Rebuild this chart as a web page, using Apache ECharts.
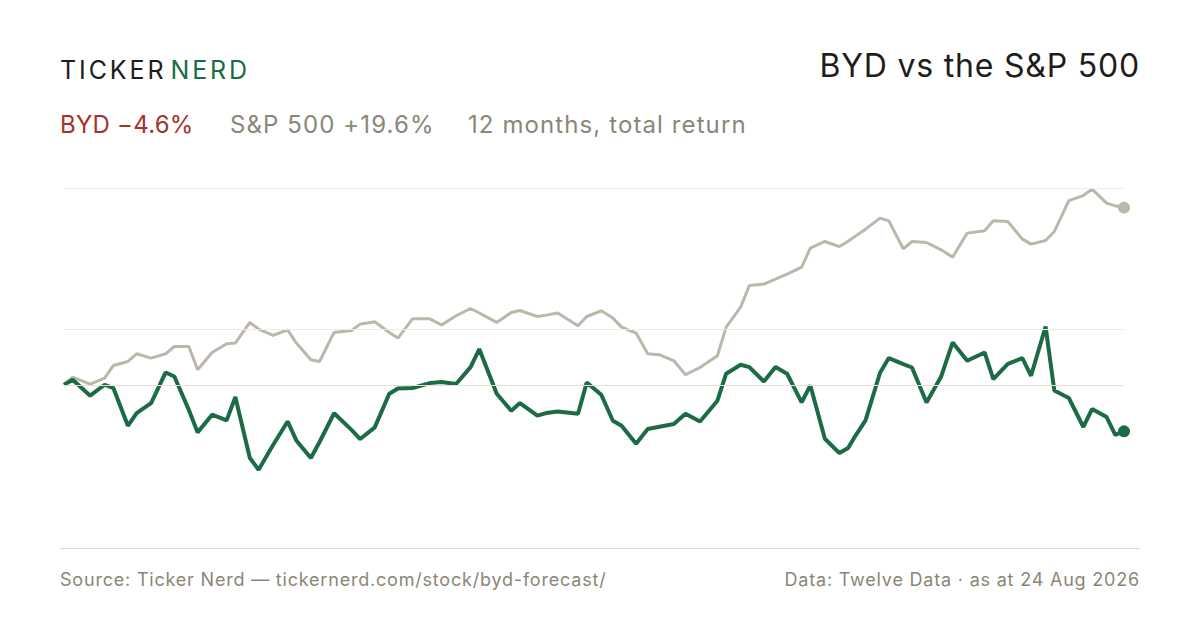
<!DOCTYPE html>
<html>
<head>
<meta charset="utf-8">
<title>BYD vs the S&amp;P 500</title>
<script src="https://cdn.jsdelivr.net/npm/echarts@6/dist/echarts.min.js"></script>
<style>
  html, body { margin: 0; padding: 0; background: #fff; }
  #wrap { position: relative; width: 1200px; height: 630px; font-family: Inter, "Noto Sans", sans-serif; overflow: hidden; }
  #chart { position: absolute; left: 0; top: 0; width: 1200px; height: 630px; }
  .txt { position: absolute; white-space: nowrap; line-height: 1; }
  #logo { left: 60px; top: 58px; font-size: 25px; letter-spacing: 2.9px; color: #1d1d1b; }
  #logo span { color: #1b6b45; margin-left: 4px; }
  #title { right: 60px; top: 50px; font-size: 32px; letter-spacing: 0.8px; color: #1d1d1b; }
  .sub { top: 113px; font-size: 24px; letter-spacing: 1.1px; color: #8b8677; }
  #divider { position: absolute; left: 60px; top: 548px; width: 1080px; height: 0; border-top: 1.5px solid #dedad0; }
  .foot { top: 571px; font-size: 18px; letter-spacing: 0.8px; color: #8b8677; }
</style>
</head>
<body>
<div id="wrap">
  <div id="chart"></div>
  <div class="txt" id="logo">TICKER<span>NERD</span></div>
  <div class="txt" id="title">BYD vs the S&amp;P 500</div>
  <div class="txt sub" style="left:60px;letter-spacing:0.25px;color:#a8322a;">BYD −4.6%</div>
  <div class="txt sub" style="left:230px;">S&amp;P 500 +19.6%</div>
  <div class="txt sub" style="left:468px;">12 months, total return</div>
  <div id="divider"></div>
  <div class="txt foot" style="left:60px;">Source: Ticker Nerd — tickernerd.com/stock/byd-forecast/</div>
  <div class="txt foot" style="right:60px;">Data: Twelve Data · as at 24 Aug 2026</div>
</div>
<script>
// days since start of the 12 month window
var days = [0,3,9,14,17,22,25,30,35,38,43,46,51,56,59,64,67,72,77,80,85,88,93,99,102,107,112,115,120,126,130,135,140,143,149,154,157,163,166,170,177,180,185,189,192,197,201,205,210,214,219,225,228,233,236,241,245,249,254,257,262,267,270,272,276,281,284,289,292,297,302,306,311,317,320,325,330,333,338,341,346,351,354,359,362,365];
// total return index, rebased to 100
var byd = [100.0,100.51,98.90,100.0,99.67,95.94,97.18,98.17,101.25,100.84,97.48,95.30,97.02,96.46,98.77,92.86,91.77,94.09,96.36,94.53,92.86,94.38,97.16,95.54,94.66,95.78,99.10,99.63,99.67,100.17,100.27,100.07,101.80,103.67,99.10,97.41,98.17,96.92,97.18,97.34,97.11,100.23,99.00,96.43,95.94,94.21,95.62,95.85,96.11,97.11,96.36,98.40,101.12,102.04,101.80,100.33,101.80,101.12,98.23,99.93,94.69,93.33,93.81,94.74,96.46,101.22,102.73,102.11,101.76,98.23,100.81,104.37,102.45,103.32,100.58,102.14,102.73,100.91,106.07,99.43,98.67,95.82,97.57,96.79,95.07,95.4];
var spx = [100.0,100.78,100.07,100.68,101.97,102.38,103.18,102.73,103.18,103.94,103.94,101.53,103.32,104.23,104.30,106.50,105.79,105.11,105.71,104.30,102.56,102.38,105.43,105.64,106.32,106.57,105.43,104.83,106.89,106.89,106.22,107.22,108.01,107.52,106.50,107.58,107.79,107.14,107.29,107.51,106.14,107.14,107.76,106.97,106.00,105.36,103.18,103.08,102.45,101.02,101.76,102.97,106.00,108.16,110.55,110.71,111.27,111.83,112.62,114.81,115.58,114.99,115.61,116.09,117.03,118.34,118.02,114.73,115.58,115.46,114.61,113.77,116.56,116.83,118.02,117.93,115.86,115.27,115.69,116.75,120.46,121.07,121.86,120.15,119.82,119.6];
// reference levels drawn as gridlines
var gridLevels = [122, 105.8];
var baseLevel = 100;

var green = '#1b6b45';
var stone = '#bdb6aa';

function pairs(vals) {
    return vals.map(function (v, i) { return [days[i], v]; });
}
function lastPoint(vals) {
    var i = vals.length - 1;
    return [[days[i], vals[i]]];
}

var myChart = echarts.init(document.getElementById('chart'), null, {renderer: 'svg'});
window.addEventListener('resize', function () { myChart.resize(); }, false);

var marks = gridLevels.map(function (v) {
    return {yAxis: v, lineStyle: {color: '#eeebe6', width: 1.2, type: 'solid'}};
});
marks.push({yAxis: baseLevel, lineStyle: {color: '#e4e0d2', width: 1.2, type: 'solid'}});

var option = {
    animation: false,
    grid: {left: 64, right: 76, top: 188, bottom: 141},
    xAxis: {
        type: 'value', min: 0, max: 365,
        axisLine: {show: false}, axisTick: {show: false},
        axisLabel: {show: false}, splitLine: {show: false}
    },
    yAxis: {
        type: 'log', min: 90, max: 122,
        axisLine: {show: false}, axisTick: {show: false},
        axisLabel: {show: false}, splitLine: {show: false}
    },
    series: [
        {
            name: 'S&P 500', type: 'line', data: pairs(spx),
            symbol: 'none', lineStyle: {color: stone, width: 3},
            markLine: {silent: true, symbol: 'none', label: {show: false}, data: marks},
            z: 2
        },
        {
            name: 'BYD', type: 'line', data: pairs(byd),
            symbol: 'none', lineStyle: {color: green, width: 4},
            z: 3
        },
        {
            type: 'scatter', data: lastPoint(spx), symbolSize: 12,
            itemStyle: {color: stone, opacity: 1}, z: 4
        },
        {
            type: 'scatter', data: lastPoint(byd), symbolSize: 12,
            itemStyle: {color: green, opacity: 1}, z: 5
        }
    ]
};
myChart.setOption(option);
</script>
</body>
</html>
